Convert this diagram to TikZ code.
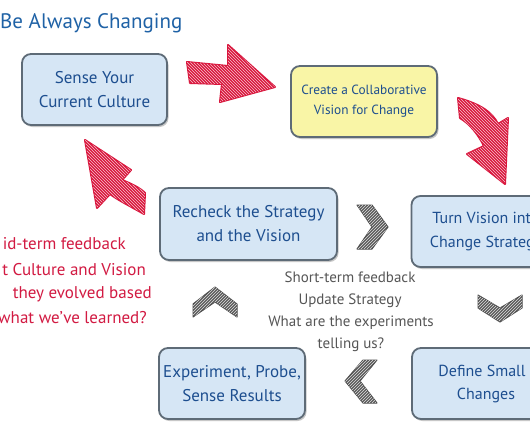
\documentclass[tikz,border=0pt]{standalone}
\usepackage{fontspec}
\setmainfont{PT Sans}
\usetikzlibrary{shadows,patterns}
\definecolor{boxblue}{HTML}{D6E6F5}
\definecolor{boxyellow}{HTML}{F9F5A6}
\definecolor{boxedge}{HTML}{5E6B77}
\definecolor{txtblue}{HTML}{1D4E8F}
\definecolor{titleblue}{HTML}{1F62A6}
\definecolor{arrowred}{HTML}{D9163D}
\definecolor{txtred}{HTML}{D21A42}
\definecolor{txtgray}{HTML}{565656}
\definecolor{chevgray}{HTML}{5C5C5C}
\begin{document}
\begin{tikzpicture}[x=1pt,y=-1pt,
  stepbox/.style={draw=boxedge, line width=1.8pt, rounded corners=9pt, fill=boxblue,
    align=center, text=txtblue, font=\fontsize{17}{24}\selectfont, inner sep=0pt,
    general shadow={fill=black!22, shadow xshift=1.5pt, shadow yshift=-2pt}},
  redarrow/.style={fill=arrowred, draw=arrowred, line width=2pt, line join=round,
    postaction={pattern=north west lines, pattern color=arrowred!25!white}},
  chevron/.style={fill=chevgray, draw=black!70, line width=1pt, line join=round,
    postaction={pattern=north east lines, pattern color=white!75!gray}},
  redtxt/.style={anchor=base east, text=txtred, font=\fontsize{17}{20}\selectfont, inner sep=0pt},
  graytxt/.style={anchor=base, text=txtgray, font=\fontsize{15}{20}\selectfont, inner sep=0pt}
]
\useasboundingbox (0,0) rectangle (530,442);
\clip (0,0) rectangle (530,442);
\fill[white] (0,0) rectangle (530,442);

% title
\node[anchor=base west, text=titleblue, font=\fontsize{21}{24}\selectfont, inner sep=0pt] (title) at (0,28) {Be Always Changing};

% boxes
\node[stepbox, minimum width=145pt, minimum height=71pt] (sense) at (94.5,89.5) {Sense Your\\Current Culture};
\node[stepbox, fill=boxyellow, minimum width=146pt, minimum height=71pt, font=\fontsize{13.3}{20}\selectfont] (create) at (364,101.5) {Create a Collaborative\\Vision for Change};
\node[stepbox, minimum width=149pt, minimum height=71pt, font=\fontsize{16}{24}\selectfont] (turn) at (486,231.5) {Turn Vision into\\Change Strategy};
\node[stepbox, minimum width=177pt, minimum height=72pt] (recheck) at (248.5,224) {Recheck the Strategy\\and the Vision};
\node[stepbox, minimum width=148pt, minimum height=71pt, font=\fontsize{16}{23}\selectfont] (define) at (486,383.5) {Define Small\hspace*{8pt}\\Changes};
\node[stepbox, minimum width=146pt, minimum height=71pt] (experiment) at (232,383.5) {Experiment, Probe,\\Sense Results};

% red arrows
\path[redarrow] (187,62) -- (228,66) -- (228,45) -- (275,87) -- (220,102) -- (222,84) -- (190,83) -- cycle;
\path[redarrow] (458,98) .. controls (480,104) and (492,112) .. (498,124) -- (508,118) -- (505,184) -- (467,154) -- (484,146) .. controls (478,134) and (470,124) .. (460,118) -- cycle;
\path[redarrow] (85,140) -- (131,170) -- (122,180) .. controls (132,184) and (140,188) .. (145,193) -- (144,214) .. controls (130,206) and (118,200) .. (110,194) -- (97,208) -- cycle;

% gray chevrons
\path[chevron] (357,205) -- (372,205) -- (388,227) -- (372,249) -- (357,249) -- (372,227) -- cycle;
\path[chevron] (478,295) -- (500,308) -- (522,295) -- (522,308) -- (500,322) -- (478,308) -- cycle;
\path[chevron] (377,360) -- (363,360) -- (345,381) -- (363,403) -- (377,403) -- (360,381) -- cycle;
\path[chevron] (193,304) -- (215,287) -- (237,304) -- (237,317) -- (215,302) -- (193,317) -- cycle;

% gray text
\node[graytxt] (g1) at (350,282) {Short-term feedback};
\node[graytxt] (g2) at (350,304) {Update Strategy};
\node[graytxt] (g3) at (351,326) {What are the experiments};
\node[graytxt] (g4) at (351,348) {telling us?};

% red text
\node[redtxt] (r1) at (126,249) {id-term feedback};
\node[redtxt] (r2) at (146,275) {t Culture and Vision};
\node[redtxt] (r3) at (152,298) {they evolved based};
\node[redtxt] (r4) at (147,323) {what we’ve learned?};
\end{tikzpicture}
\end{document}
